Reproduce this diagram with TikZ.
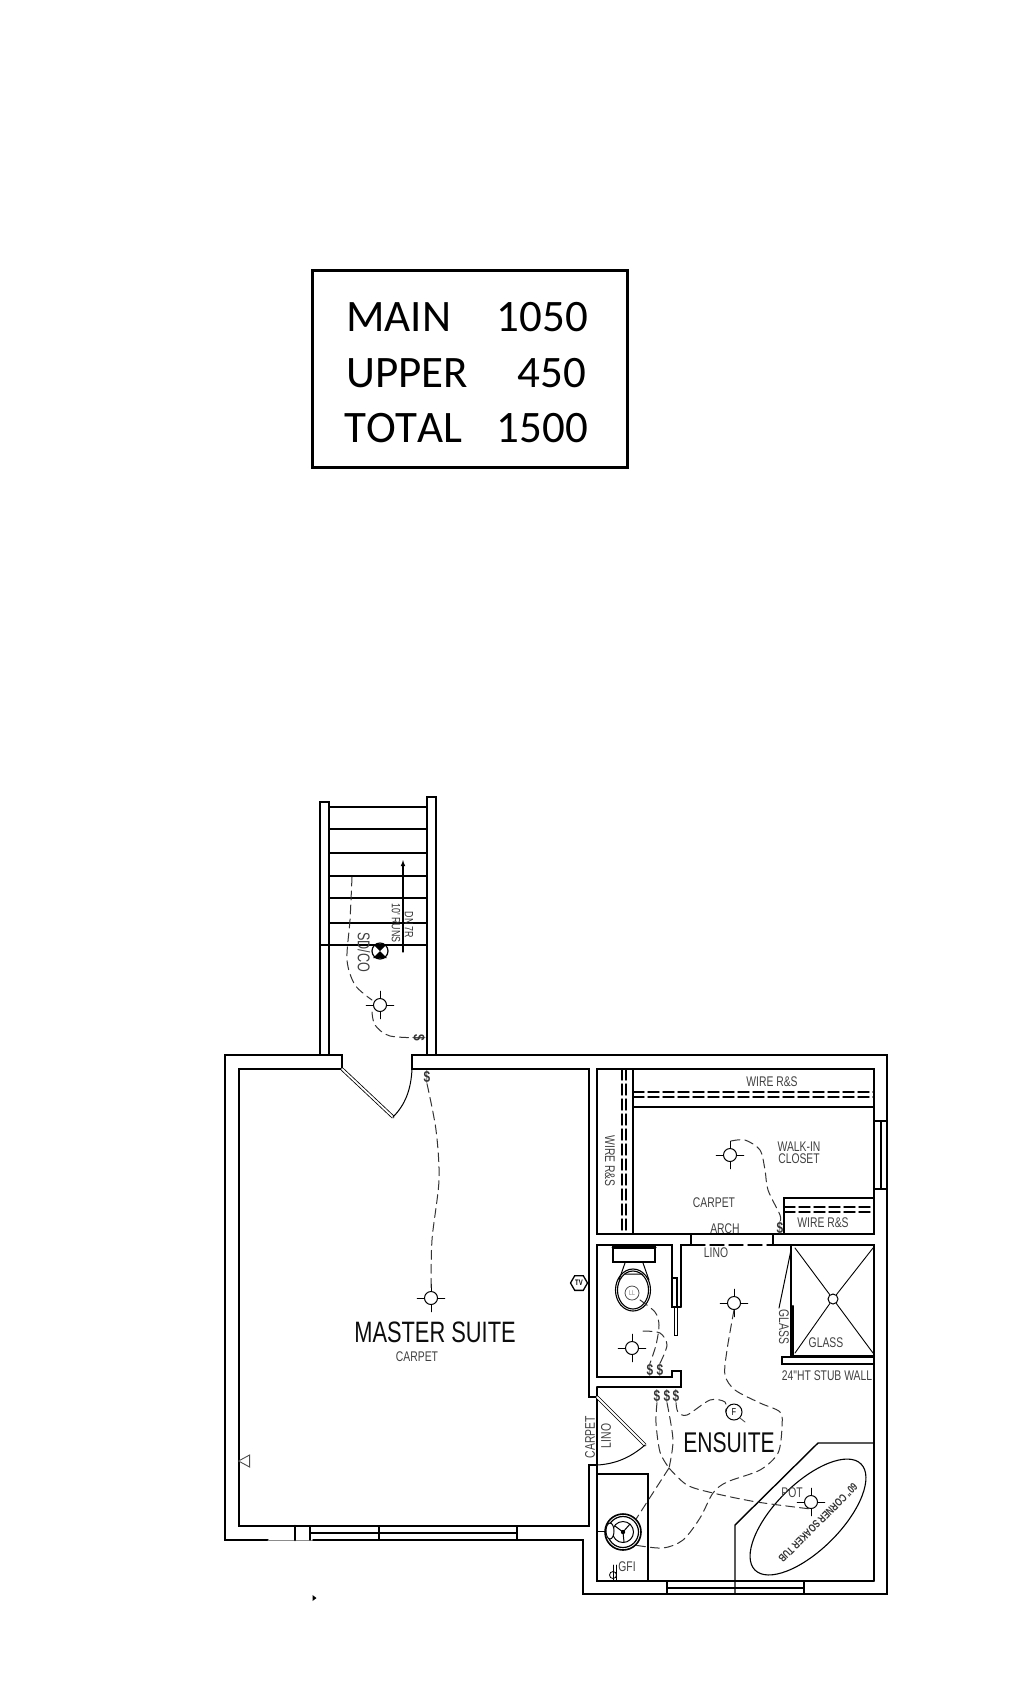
\documentclass[tikz,border=0pt]{standalone}
\usepackage{fontspec}
\usetikzlibrary{shapes.geometric,shapes.misc,arrows}
\newfontfamily\calibrifont[Kerning=Off]{Carlito}
\newfontfamily\plantext[FakeStretch=0.74]{Liberation Sans}
\tikzset{
  wall/.style={draw=black,line width=1.4pt},
  wire/.style={draw=black!80,line width=1pt,dash pattern=on 9pt off 5pt},
  leaf/.style={draw=black,line width=0.8pt,double,double distance=1.8pt},
  areatext/.style={font=\calibrifont\fontsize{45}{45}\selectfont,inner sep=0pt},
  tag/.style={font=\plantext\fontsize{14}{14}\selectfont,inner sep=0pt,text=black!75},
  smalltag/.style={font=\plantext\fontsize{12}{12}\selectfont,inner sep=0pt,text=black!80},
  roomname/.style={font=\plantext\fontsize{29.5}{30}\selectfont,inner sep=0pt,text=black!95},
  switchmark/.style={font=\plantext\bfseries\fontsize{16}{16}\selectfont,inner sep=0pt,text=black!80},
  lamp/.style={circle,draw,line width=1pt,fill=white,minimum size=13pt,inner sep=0pt,
    append after command={(\tikzlastnode.north) edge ++(0,-7) (\tikzlastnode.south) edge ++(0,7)
      (\tikzlastnode.east) edge ++(7,0) (\tikzlastnode.west) edge ++(-7,0)}},
}
\begin{document}
\begin{tikzpicture}[x=1pt,y=-1pt,line cap=round,line join=miter]
\useasboundingbox (0,0) rectangle (1016,1697);

% area table
\node [draw,line width=3pt,minimum width=315pt,minimum height=197pt,inner sep=0pt] (areabox) at (470,369) {};
\node [areatext,anchor=base west] (mainname) at (346,331) {MAIN};
\node [areatext,anchor=base west] (uppername) at (346,387) {UPPER};
\node [areatext,anchor=base west] (totalname) at (344,442) {TOTAL};
\node [areatext,anchor=base east] (mainarea) at (588,331) {1050};
\node [areatext,anchor=base east] (upperarea) at (586,387) {450};
\node [areatext,anchor=base east] (totalarea) at (588,442) {1500};

% stairs
\draw [wall] (329,1055) -- (329,802) -- (320,802) -- (320,1055);
\draw [wall] (427,1055) -- (427,797) -- (436,797) -- (436,1055);
\foreach \y in {807,829,853,876,898,923} {
  \draw [wall] (329,\y) -- (427,\y);
}
\draw [wall] (320,945) -- (427,945);
\coordinate (runfoot) at (403,952);
\coordinate (runhead) at (403,860);
\draw [-latex,line width=1.1pt] (runfoot) -- (runhead);
\node [smalltag,rotate=-90] (runtext) at (396,923) {10' RUNS};
\node [smalltag,rotate=-90] (risetext) at (409,925) {DN 7R};
\node [tag,rotate=-90,font=\plantext\fontsize{17}{17}\selectfont] (sdtext) at (364,952) {SD/CO};
\node [circle,draw,line width=1.2pt,minimum size=16pt,inner sep=0pt] (smoke) at (380,951) {};
\fill (373,944) -- (387,944) -- (373,958) -- (387,958) -- cycle;

% outer and inner walls
\draw [wall] (342,1069) -- (342,1055) -- (225,1055) -- (225,1540) -- (268,1540);
\draw [draw=black!45,line width=0.6pt] (268,1540) -- (313,1540);
\draw [wall] (313,1540) -- (583,1540) -- (583,1594) -- (887,1594) -- (887,1055) -- (412,1055) -- (412,1069)
  -- (589,1069) -- (589,1397) -- (597,1397);
\draw [wall] (342,1069) -- (239,1069) -- (239,1526) -- (589,1526) -- (589,1465) -- (597,1465);
\draw [wall] (597,1387) -- (597,1581) -- (874,1581);

% door to the stairs
\draw [leaf] (342,1069) -- (393,1117);
\draw [wall,line width=1pt] (393,1117) .. controls (405,1105) and (411,1090) .. (412,1069);

% master suite window
\draw [wall,line width=2.6pt] (295,1526) -- (295,1540);
\draw [wall] (310,1526) -- (310,1540) (310,1533) -- (517,1533) (379,1526) -- (379,1540) (517,1526) -- (517,1540);

% walk-in closet
\draw [wall] (874,1121) -- (874,1069) -- (597,1069) -- (597,1234) -- (874,1234) -- (874,1189);
\draw [wall] (874,1121) rectangle (887,1189) (881,1121) -- (881,1189);
\draw [wall] (633,1069) -- (633,1234) (633,1107) -- (874,1107);
\draw [wall] (784,1234) -- (784,1198) -- (874,1198);
\foreach \y in {1092,1097} {
  \draw [wall,dash pattern=on 11pt off 4pt] (633,\y) -- (874,\y);
}
\foreach \y in {1207,1212} {
  \draw [wall,dash pattern=on 11pt off 4pt] (784,\y) -- (874,\y);
}
\foreach \x in {622,626} {
  \draw [wall,dash pattern=on 11pt off 4pt] (\x,1069) -- (\x,1234);
}

% arch, toilet room and shower
\draw [wall] (672,1307) -- (672,1245) -- (597,1245) -- (597,1377) -- (672,1377) -- (672,1371) -- (681,1371) -- (681,1387) -- (597,1387);
\draw [wall] (681,1307) -- (681,1245) -- (691,1245) -- (691,1234);
\draw [wall] (773,1234) -- (773,1245) -- (874,1245) -- (874,1581);
\draw [wall,dash pattern=on 14pt off 5pt] (691,1245) -- (773,1245);
\draw [wall,line width=1.7pt] (672,1278) rectangle (677,1307) (672,1307) -- (681,1307);
\draw [wall,line width=1pt] (674,1307) rectangle (677,1335);
\draw [wall] (791,1245) -- (791,1356);
\draw [wall,line width=2.2pt] (793,1306) -- (793,1356) -- (874,1356);
\draw [wall] (782,1357) rectangle (874,1364);
\draw [wall,line width=1pt] (779,1308) -- (791,1250);
\node [circle,draw,line width=1pt,minimum size=10pt,inner sep=0pt] (drain) at (833,1299) {};
\draw [wall,line width=0.9pt] (795,1248) -- (drain) (873,1248) -- (drain) (795,1353) -- (drain) (873,1353) -- (drain);

% toilet
\draw [wall,line width=1.4pt] (613,1247) rectangle (655,1262);
\draw [wall,line width=3pt] (613,1247) -- (655,1247);
\draw [wall,line width=1pt] (625,1263) -- (619,1280) (643,1263) -- (649,1280) (625,1274) -- (643,1274);
\node [ellipse,draw,line width=1.1pt,minimum width=35pt,minimum height=42pt,inner sep=0pt] (bowl) at (633,1290) {};
\node [ellipse,draw,line width=1.1pt,minimum width=31pt,minimum height=38pt,inner sep=0pt] (bowlrim) at (633,1290) {};
\node [circle,draw=black!70,line width=0.8pt,minimum size=14pt,inner sep=0pt,text=black!50,font=\plantext\fontsize{7}{7}\selectfont] (wcfan) at (632,1293) {LL};

% linen door and furnace closet
\draw [leaf] (597,1397) -- (645,1445);
\draw [wall,line width=1pt] (645,1445) .. controls (630,1458) and (615,1464) .. (597,1465);
\draw [wall] (597,1474) -- (648,1474) -- (648,1581);
\node [circle,draw,line width=1.6pt,minimum size=36pt,inner sep=0pt] (heater) at (623,1532) {};
\node [circle,draw,line width=1.2pt,minimum size=31pt,inner sep=0pt] (heaterring) at (623,1532) {};
\node [circle,draw,line width=1pt,minimum size=21pt,inner sep=0pt] (heaterhub) at (623,1532) {};
\draw [line width=1pt] (heater.center) -- +(7,-8) (heater.center) -- +(-8,-6) (heater.center) -- +(1,10);
\fill (heater.center) circle (2.2pt);
\node [ellipse,draw,line width=1pt,fill=white,minimum width=8pt,minimum height=16pt,inner sep=0pt] (heatervalve) at (610,1531) {};
\coordinate (heaterwall) at (598,1531);
\draw [line width=1pt] (heaterwall) -- (heatervalve);
\draw [line width=1pt] (613,1565) -- (613,1581) (616,1565) -- (616,1581);
\node [circle,draw,line width=0.8pt,minimum size=7pt,inner sep=0pt] (gfimark) at (613,1575) {};

% tub
\draw [wall] (735,1594) -- (735,1525) -- (818,1443) -- (874,1443);
\node [ellipse,rotate=45,draw,line width=1.1pt,minimum width=150pt,minimum height=66pt,inner sep=0pt] (tub) at (808,1517) {};
\node [smalltag,rotate=225,font=\plantext\bfseries\fontsize{11}{11}\selectfont] (tubtext) at (818,1523) {60" CORNER SOAKER TUB};

% ensuite window
\draw [wall] (667,1581) -- (667,1594) (667,1588) -- (804,1588) (804,1581) -- (804,1594);

% fixtures
\node [lamp] (hallLamp) at (380,1005) {};
\node [lamp] (masterLamp) at (431,1298) {};
\node [lamp] (closetLamp) at (730,1155) {};
\node [lamp] (ensuiteLamp) at (734,1303) {};
\node [lamp] (wcLamp) at (632,1348) {};
\node [lamp] (potLamp) at (811,1502) {};
\node [circle,draw,line width=1pt,minimum size=16pt,inner sep=0pt,font=\plantext\fontsize{10}{10}\selectfont] (ensuiteFan) at (734,1412) {F};
\node [regular polygon,regular polygon sides=6,draw,line width=1.3pt,minimum size=17pt,inner sep=0pt,font=\plantext\bfseries\fontsize{8}{8}\selectfont] (tvmark) at (579,1283) {TV};
\node [isosceles triangle,shape border rotate=180,draw=black!70,line width=0.9pt,minimum height=11pt,minimum width=12pt,isosceles triangle stretches,inner sep=0pt] (phonemark) at (246,1461) {};
\node [isosceles triangle,fill=black,minimum height=4pt,minimum width=6pt,isosceles triangle stretches,inner sep=0pt] (datamark) at (314,1598) {};

% switches
\node [switchmark,rotate=-90] (hallSwitch) at (419,1038) {\$};
\node [switchmark] (masterSwitch) at (427,1077) {\$};
\node [switchmark] (closetSwitch) at (780,1228) {\$};
\node [switchmark] (wcSwitchA) at (650,1370) {\$};
\node [switchmark] (wcSwitchB) at (660,1370) {\$};
\node [switchmark] (bathSwitchA) at (657,1396) {\$};
\node [switchmark] (bathSwitchB) at (667,1396) {\$};
\node [switchmark] (bathSwitchC) at (676,1396) {\$};

% wiring
\coordinate (smokefar) at (352,877);
\coordinate (wcjoin) at (669,1468);
\coordinate (fanfoot) at (745,1422);
\coordinate (bowlwire) at (640,1300);
\draw [wire] plot [smooth] coordinates {(smokefar) (350,920) (347,960) (355,985) (372,1000)};
\draw [wire] plot [smooth] coordinates {(372,1012) (375,1025) (390,1036) (hallSwitch.north)};
\draw [wire] plot [smooth] coordinates {(masterSwitch.south) (436,1130) (439,1180) (432,1240) (masterLamp.north)};
\draw [wire] plot [smooth] coordinates {(731,1141) (745,1140) (760,1150) (765,1170) (768,1190) (780,1215) (closetSwitch.north)};
\draw [wire] plot [smooth] coordinates {(bowlwire) (655,1312) (659,1325) (656,1345) (wcSwitchA.north)};
\draw [wire] plot [smooth] coordinates {(643,1331) (660,1333) (667,1345) (wcSwitchB.north)};
\draw [wire] plot [smooth] coordinates {(ensuiteLamp.south) (727,1350) (725,1375) (735,1390) (760,1403) (780,1412) (782,1427) (778,1453) (760,1470) (727,1482) (713,1493) (700,1518) (683,1540) (663,1548) (heater.south east)};
\draw [wire] plot [smooth] coordinates {(bathSwitchA.south) (656,1423) (660,1452) (wcjoin)};
\draw [wire] plot [smooth] coordinates {(bathSwitchB.south) (673,1440) (wcjoin)};
\draw [wire] (wcjoin) -- (heater.north east);
\draw [wire] plot [smooth] coordinates {(wcjoin) (687,1485) (713,1493) (757,1502) (potLamp.south)};
\draw [wire] plot [smooth] coordinates {(bathSwitchC.south) (678,1412) (687,1415) (710,1400) (725,1402) (ensuiteFan.west)};
\draw [line width=0.8pt,draw=black!75] (ensuiteFan.south east) -- (fanfoot);

% room labels
\node [roomname] (masterName) at (435,1332) {MASTER SUITE};
\node [tag] (masterFloor) at (417,1357) {CARPET};
\node [roomname,font=\plantext\fontsize{28.5}{29}\selectfont] (ensuiteName) at (729,1443) {ENSUITE};
\node [tag] (wireTop) at (772,1082) {WIRE R\&S};
\node [tag,rotate=-90] (wireLeft) at (610,1161) {WIRE R\&S};
\node [tag] (wireBottom) at (823,1223) {WIRE R\&S};
\node [tag,align=center] (closetName) at (799,1153) {WALK-IN\\[-2pt]CLOSET};
\node [tag] (closetFloor) at (714,1203) {CARPET};
\node [tag] (archName) at (725,1229) {ARCH};
\node [tag] (linoName) at (716,1253) {LINO};
\node [tag,rotate=-90] (glassDoor) at (784,1327) {GLASS};
\node [tag] (glassFront) at (826,1343) {GLASS};
\node [tag] (stubName) at (827,1376) {24"HT STUB WALL};
\node [tag,rotate=90] (doorFloor) at (590,1437) {CARPET};
\node [tag,rotate=90] (doorLino) at (606,1436) {LINO};
\node [tag] (gfiName) at (627,1567) {GFI};
\node [tag] (potName) at (792,1493) {POT};
\end{tikzpicture}
\end{document}
